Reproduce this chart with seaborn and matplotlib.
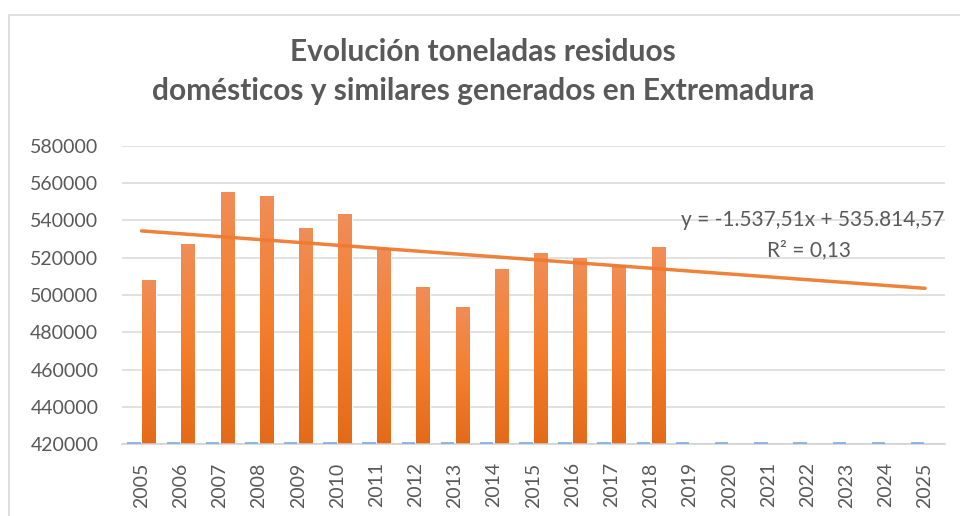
import numpy as np
import pandas as pd
import matplotlib
matplotlib.use("Agg")
import matplotlib.pyplot as plt
import matplotlib.patches as mpatches
from matplotlib.colors import LinearSegmentedColormap
import seaborn as sns

# datos
years = [str(y) for y in range(2005, 2026)]
toneladas = [508000, 527200, 555000, 552800, 535700, 543200, 524900,
             504200, 493500, 513800, 522400, 519700, 515900, 525500]
# la serie azul es el propio año (queda por debajo del eje)
anio_vals = list(range(2005, 2026))
pendiente = -1537.51
intercepto = 535814.57
ecuacion = "y = -1.537,51x + 535.814,57"
r2_text = "R² = 0,13"
titulo = ["Evolución toneladas residuos",
          "domésticos y similares generados en Extremadura"]

ton_full = toneladas + [np.nan] * (len(years) - len(toneladas))
df = pd.DataFrame({
    "year": years * 2,
    "valor": anio_vals + ton_full,
    "serie": ["Año"] * len(years) + ["Toneladas"] * len(years),
})

sns.set_theme(style="white")
plt.rcParams["font.family"] = ["Lato", "DejaVu Sans"]
gray_txt = "#595959"

fig = plt.figure(figsize=(9.6, 5.16), dpi=100)
ax = fig.add_axes([0.127, 0.139, 0.857, 0.579])

sns.barplot(data=df, x="year", y="valor", hue="serie", order=years,
            palette={"Año": "#5B9BD5", "Toneladas": "#F28232"},
            width=0.76, gap=0.1, legend=False, ax=ax, errorbar=None)

ymin, ymax = 420000, 580000
ax.set_ylim(ymin, ymax)

# degradado en las barras naranjas y marca azul en la base
grad = LinearSegmentedColormap.from_list("g", ["#E36A18", "#F47F2D", "#F08D57"])
n = len(years)
for i, p in enumerate(ax.patches):
    x0 = p.get_x()
    w = p.get_width()
    h = p.get_height()
    if i < n:
        ax.hlines(ymin + 600, x0, x0 + w, color="#7FADDC", lw=1.2, zorder=3)
        continue
    if not np.isfinite(h) or h <= ymin:
        continue
    img = ax.imshow(np.linspace(0, 1, 256).reshape(-1, 1), cmap=grad,
                    extent=(x0, x0 + w, ymin, h), origin="lower",
                    aspect="auto", zorder=p.get_zorder() + 0.1)
    img.set_clip_path(p)

# linea de tendencia
xs = np.arange(1, n + 1)
ax.plot(xs - 1, pendiente * xs + intercepto, color="#EE7B30", lw=2.5,
        alpha=0.95, zorder=5, solid_capstyle="round")
ax.set_xlim(-0.5, n - 0.5)

ax.text(0.9995, 0.75, ecuacion, transform=ax.transAxes, ha="right",
        va="center", fontsize=15, color=gray_txt)
ax.text(0.835, 0.65, r2_text, transform=ax.transAxes, ha="center",
        va="center", fontsize=15, color=gray_txt)

ax.set_yticks(np.arange(ymin, ymax + 1, 20000))
ax.yaxis.grid(True, color="#D9D9D9", lw=1.1)
ax.set_axisbelow(True)
for s in ["top", "right", "left"]:
    ax.spines[s].set_visible(False)
ax.spines["bottom"].set_color("#D0D0D0")
ax.spines["bottom"].set_linewidth(1.1)
ax.tick_params(axis="y", length=0, pad=17, labelsize=14, labelcolor=gray_txt)
ax.tick_params(axis="x", length=0, pad=13, labelsize=14, labelcolor=gray_txt,
               labelrotation=90)
ax.set_xlabel("")
ax.set_ylabel("")

fig.text(0.503, 1 - 52 / 516, titulo[0], ha="center", va="center",
         fontsize=21.5, fontweight="bold", color=gray_txt)
fig.text(0.503, 1 - 91 / 516, titulo[1], ha="center", va="center",
         fontsize=21.5, fontweight="bold", color=gray_txt)

# marco del grafico
fig.patches.append(mpatches.Rectangle((9 / 960, -0.1), 1.2, 1 - 15 / 516 + 0.1,
                                      transform=fig.transFigure, fill=False,
                                      edgecolor="#D9D9D9", lw=1.2))

fig.savefig("out.png", dpi=100)
